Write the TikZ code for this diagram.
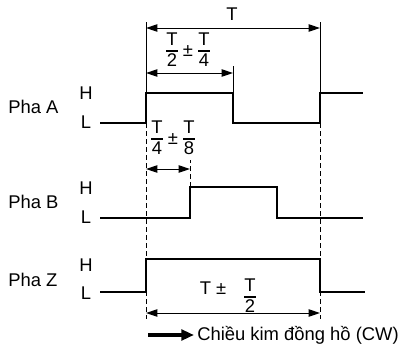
\documentclass[tikz,border=0pt]{standalone}
\usepackage{fontspec}
\setmainfont{Liberation Sans}
\usetikzlibrary{arrows.meta}
\setlength{\arrayrulewidth}{1pt}
\newcommand{\frc}[2]{$\vcenter{\hbox{\begin{tabular}{@{}c@{}}#1\\[-1.5pt]\hline #2\end{tabular}}}$}
\begin{document}
\begin{tikzpicture}[x=0.75pt,y=-0.75pt,
  every node/.style={font=\fontsize{13.8pt}{16pt}\selectfont, inner sep=0pt},
  sig/.style={line width=1.5pt},
  guide/.style={line width=0.75pt},
  dashline/.style={line width=0.75pt, dash pattern=on 3.5pt off 2.5pt},
  dim/.style={line width=0.75pt, {Triangle[length=8.5pt,width=5.5pt]}-{Triangle[length=8.5pt,width=5.5pt]}},
  dirarrow/.style={line width=3pt, -{Triangle[length=9.5pt,width=8pt]}}]
  \useasboundingbox (0,0) rectangle (400,347);
  % channel labels
  \node[anchor=west] (phaA) at (8,107) {Pha A};
  \node (hA) at (86,93) {H};
  \node (lA) at (86,122) {L};
  \node[anchor=west] (phaB) at (8,202) {Pha B};
  \node (hB) at (86,188) {H};
  \node (lB) at (86,217) {L};
  \node[anchor=west] (phaZ) at (8,280) {Pha Z};
  \node (hZ) at (86,265) {H};
  \node (lZ) at (86,293) {L};
  % Pha A
  \draw[sig] (100,123) -- (146,123) -- (146,93) -- (233,93) -- (233,123) -- (320,123) -- (320,93) -- (363,93);
  % Pha B
  \draw[sig] (100,218) -- (190,218) -- (190,187) -- (277,187) -- (277,218) -- (363,218);
  % Pha Z
  \draw[sig] (100,292) -- (146,292) -- (146,259) -- (320,259) -- (320,292) -- (365,292);
  % guide lines
  \draw[guide] (146,93) -- (146,22);
  \draw[guide] (320,93) -- (320,22);
  \draw[guide] (233,93) -- (233,66);
  \draw[dashline] (146,123) -- (146,319);
  \draw[dashline] (320,123) -- (320,319);
  \draw[dashline] (190,187) -- (190,160);
  % period T
  \coordinate (t0) at (146,28);
  \coordinate (t1) at (320,28);
  \draw[dim] (t0) -- (t1);
  \node (tT) at (232,14) {T};
  % pulse width A
  \coordinate (a0) at (146,73);
  \coordinate (a1) at (233,73);
  \draw[dim] (a0) -- (a1);
  \node (tA) at (188,52) {\frc{T}{2}\hspace{4pt}±\hspace{4pt}\frc{T}{4}};
  % phase shift B
  \coordinate (b0) at (146,169);
  \coordinate (b1) at (190,169);
  \draw[dim] (b0) -- (b1);
  \node (tB) at (173,140) {\frc{T}{4}\hspace{4pt}±\hspace{4pt}\frc{T}{8}};
  % pulse width Z
  \coordinate (z0) at (146,313);
  \coordinate (z1) at (320,313);
  \draw[dim] (z0) -- (z1);
  \node (tZ) at (213,288) {T ±};
  \node (tZf) at (250,298) {\frc{T}{2}};
  % direction
  \coordinate (d0) at (148,335);
  \coordinate (d1) at (194,335);
  \draw[dirarrow] (d0) -- (d1);
  \node[anchor=west] (cw) at (197,335) {Chiều kim đồng hồ (CW)};
\end{tikzpicture}
\end{document}
